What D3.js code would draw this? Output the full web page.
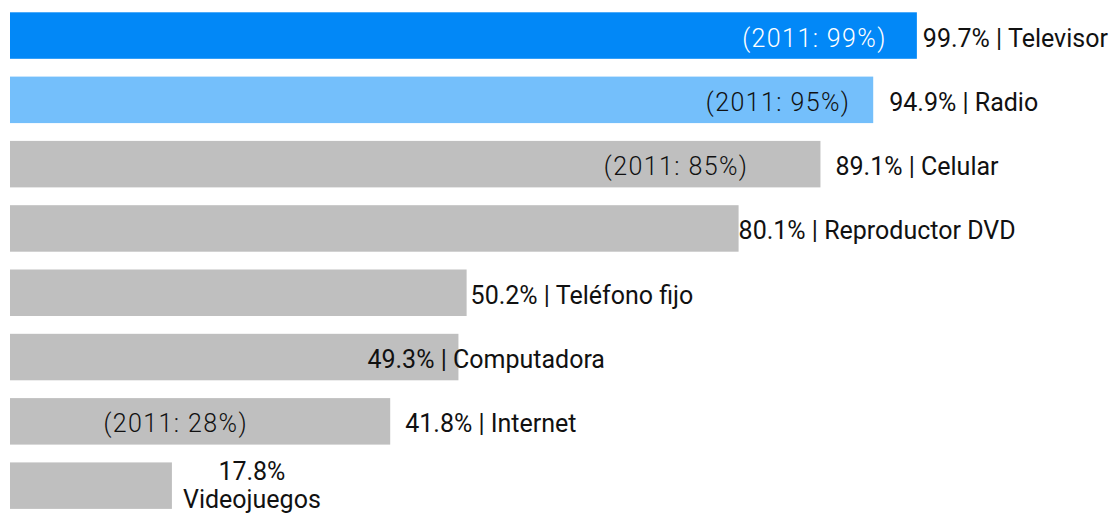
<!DOCTYPE html>
<html>
<head>
<meta charset="utf-8">
<script src="https://cdn.jsdelivr.net/npm/d3@7"></script>
<style>
  body { margin: 0; background: #fff; }
  text { font-family: Roboto, "Noto Sans", sans-serif; }
</style>
</head>
<body>
<div id="main"></div>
<script>
//=============== DATA ===================
var names = ["Televisor", "Radio", "Celular", "Reproductor DVD", "Teléfono fijo", "Computadora", "Internet", "Videojuegos"];
var values = [99.7, 94.9, 89.1, 80.1, 50.2, 49.3, 41.8, 17.8];
var values2011 = [99, 95, 85, null, null, null, 28, null];
var colors = ["#0288f7", "#74bffb", "#bfbfbf", "#bfbfbf", "#bfbfbf", "#bfbfbf", "#bfbfbf", "#bfbfbf"];

// label placement relative to bar end (null = wrapped, centred)
var labelDx = [6, 16, 15, 0, 4, -91, 15, null];
var noteDx = [-96, -96, -107, null, null, null, -89, null];

//=============== CHART ===================
var width = 1114, height = 515;

var svg = d3.select("#main").append("svg")
    .attr("width", width)
    .attr("height", height);

var x = d3.scaleLinear().domain([0, 100]).range([10, 919.6]);
var y = d3.scaleBand().domain(names).range([12.3, 508.9]).paddingInner(0.277).paddingOuter(0);

var rows = names.map(function(d, i){
	return {name: d, value: values[i], v2011: values2011[i], color: colors[i], dx: labelDx[i], ndx: noteDx[i], index: i};
});

var row = svg.selectAll("g.row")
	.data(rows)
	.enter()
	.append("g")
	.attr("class", "row");

row.append("rect")
	.attr("x", x(0))
	.attr("y", function(d){ return y(d.name); })
	.attr("width", function(d){ return x(d.value) - x(0); })
	.attr("height", y.bandwidth())
	.attr("fill", function(d){ return d.color; });

var fmt = function(v){ return v.toFixed(1) + "%"; };
var mid = function(d){ return y(d.name) + y.bandwidth() / 2; };

// normal labels
row.filter(function(d){ return d.dx !== null; })
	.append("text")
	.attr("x", function(d){ return x(d.value) + d.dx; })
	.attr("y", mid)
	.attr("dy", "0.44em")
	.attr("font-size", "25px")
	.attr("fill", "#111")
	.text(function(d){ return fmt(d.value) + " | " + d.name; });

// wrapped label, two lines
var wrapped = row.filter(function(d){ return d.dx === null; });

wrapped.append("text")
	.attr("text-anchor", "middle")
	.attr("font-size", "25px")
	.attr("fill", "#111")
	.attr("x", function(d){ return x(d.value) + 80; })
	.attr("y", function(d){ return mid(d) - 6; })
	.text(function(d){ return fmt(d.value); });

wrapped.append("text")
	.attr("text-anchor", "middle")
	.attr("font-size", "25px")
	.attr("fill", "#111")
	.attr("x", function(d){ return x(d.value) + 80; })
	.attr("y", function(d){ return mid(d) + 22; })
	.text(function(d){ return d.name; });

// 2011 notes
row.filter(function(d){ return d.v2011 !== null; })
	.append("text")
	.attr("text-anchor", "middle")
	.attr("x", function(d){ return x(d.v2011) + d.ndx; })
	.attr("y", mid)
	.attr("dy", "0.44em")
	.attr("font-size", "25px")
	.attr("font-weight", 300)
	.attr("letter-spacing", "1.4px")
	.attr("fill", function(d){ return d.index === 0 ? "#fff" : "#111"; })
	.text(function(d){ return "(2011: " + d.v2011 + "%)"; });
</script>
</body>
</html>
